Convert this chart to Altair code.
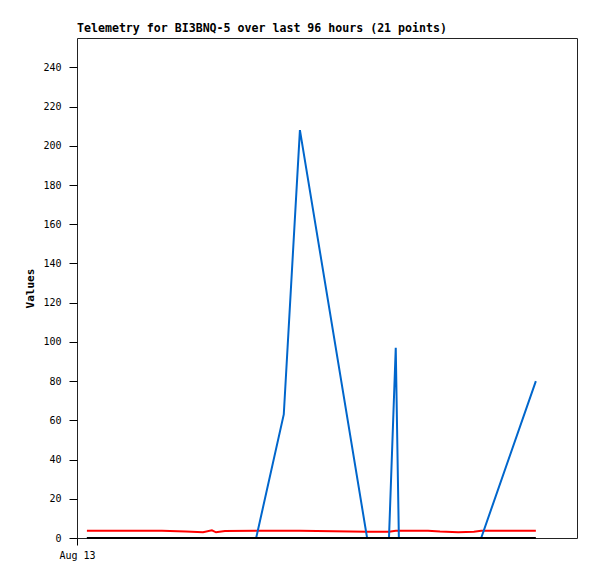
import altair as alt
import pandas as pd

# hours since Aug 13 00:00 (plot spans 96 hours)
hours = [1.9, 8.3, 16.3, 20.9, 24.2, 25.9, 26.7, 28.4, 34.4, 39.7, 42.8,
         55.7, 59.9, 61.2, 61.8, 67.4, 69.7, 73.2, 76.2, 77.6, 88.1]
series_black = [0] * 21
series_red = [3.75, 3.75, 3.75, 3.3, 2.9, 3.9, 2.9, 3.6, 3.75, 3.75, 3.75,
              3.2, 3.2, 3.75, 3.75, 3.7, 3.3, 2.9, 3.2, 3.7, 3.75]
series_blue = [0, 0, 0, 0, 0, 0, 0, 0, 0, 63, 208,
               0, 0, 97, 0, 0, 0, 0, 0, 0, 80]
y_ticks = list(range(0, 241, 20))
x_label = "Aug 13"
title_text = "Telemetry for BI3BNQ-5 over last 96 hours (21 points)"

rows = []
for name, vals in [("black", series_black), ("red", series_red), ("blue", series_blue)]:
    for h, v in zip(hours, vals):
        rows.append({"hours": h, "value": v, "series": name})
df = pd.DataFrame(rows)

FONT = "DejaVu Sans Mono"

x_enc = alt.X(
    "hours:Q",
    scale=alt.Scale(domain=[0, 96], nice=False, zero=False),
    axis=alt.Axis(
        values=[0], labelExpr=f"'{x_label}'", title=None, domain=False,
        grid=False, tickSize=7, tickColor="black", labelPadding=5,
        labelFlush=False, labelAlign="center",
        labelFont=FONT, labelFontSize=10, labelColor="black",
    ),
)
y_enc = alt.Y(
    "value:Q",
    scale=alt.Scale(domain=[0, 255], nice=False),
    axis=alt.Axis(
        values=y_ticks, title="Values", domain=False, grid=False,
        tickSize=8, tickColor="black", labelPadding=8,
        labelFont=FONT, labelFontSize=10, labelColor="black",
        titleFont=FONT, titleFontSize=11, titleFontWeight="bold",
        titleColor="black", titlePadding=7,
    ),
)

base = alt.Chart(df)


def layer(name, color):
    return base.transform_filter(alt.datum.series == name).mark_line(
        color=color, strokeWidth=2, interpolate="linear"
    ).encode(x=x_enc, y=y_enc)


chart = alt.layer(
    layer("red", "#ff0000"),
    layer("blue", "#0066cc"),
    layer("black", "#000000"),
).properties(
    width=500,
    height=500,
    title=alt.TitleParams(
        title_text, anchor="start", frame="group", font=FONT, fontSize=11.6,
        fontWeight="bold", color="black", offset=3,
    ),
    autosize=alt.AutoSizeParams(type="none"),
    padding={"left": 69, "top": 30, "right": 12, "bottom": 33},
).configure(
    background="white"
).configure_view(
    stroke="#222222", strokeWidth=1
)

chart.save("out.html", embed_options={"renderer": "svg", "actions": False})
